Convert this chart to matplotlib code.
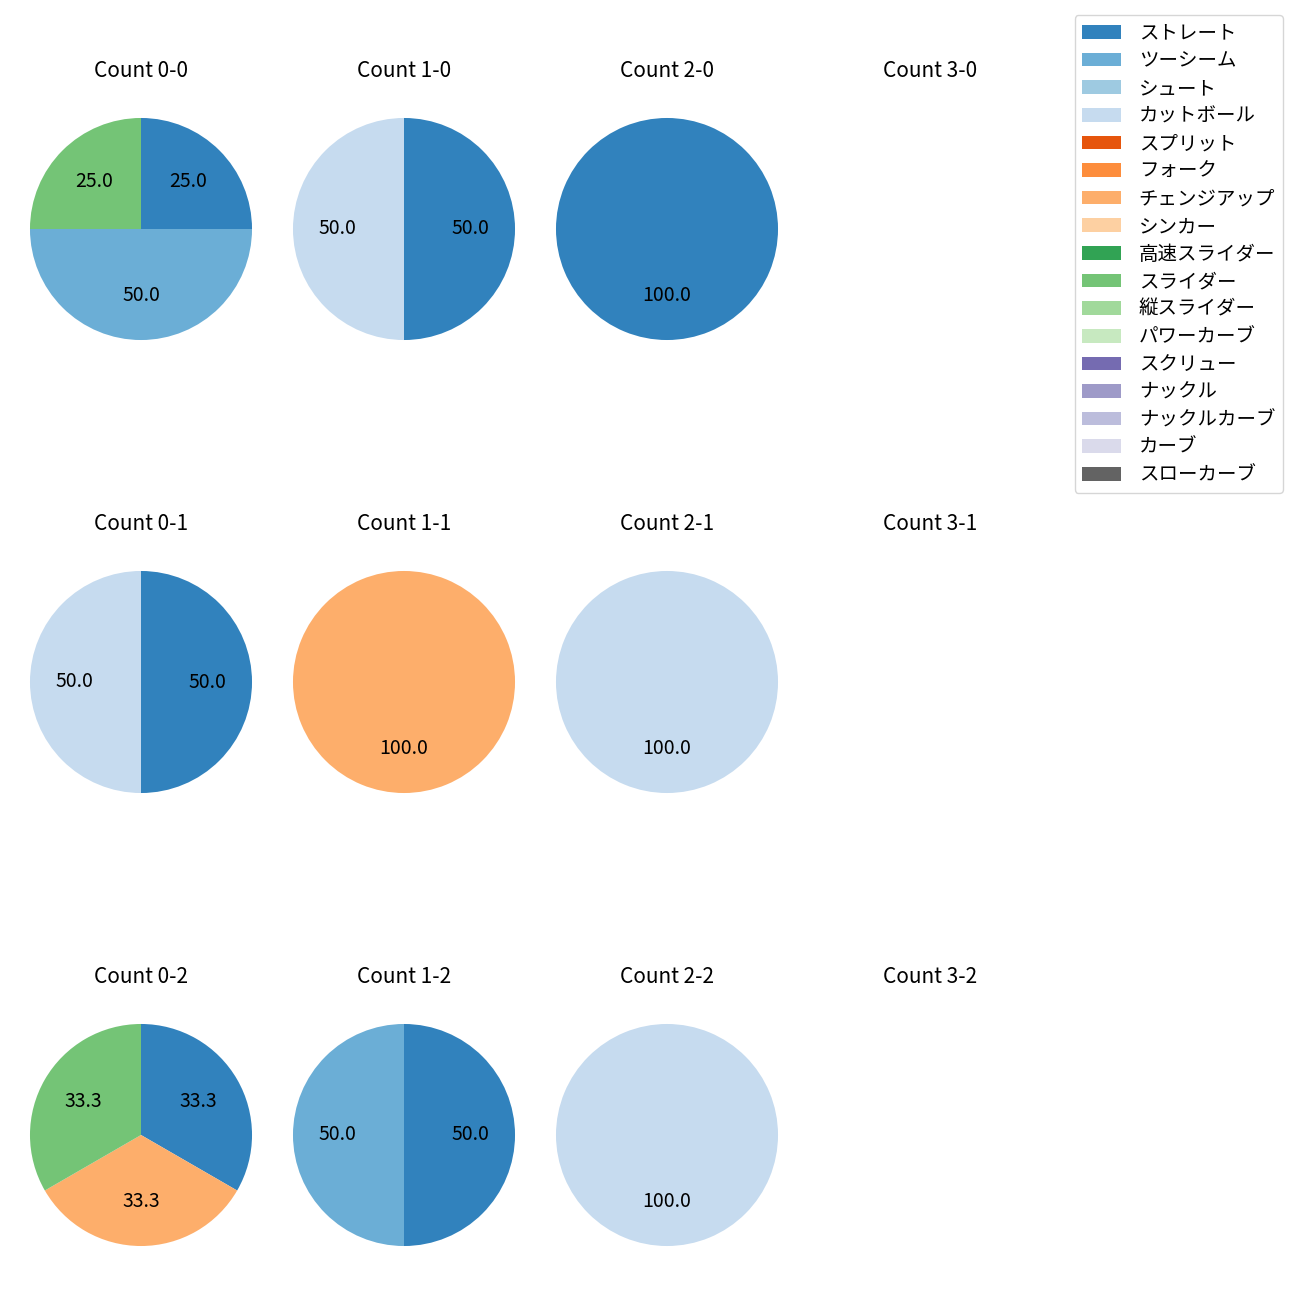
import matplotlib
matplotlib.use("Agg")
import matplotlib.pyplot as plt
from matplotlib.patches import Patch

plt.rcParams['font.family'] = ['Noto Sans CJK JP', 'DejaVu Sans']
plt.rcParams['font.size'] = 13

pitch_types = ['ストレート', 'ツーシーム', 'シュート', 'カットボール', 'スプリット',
               'フォーク', 'チェンジアップ', 'シンカー', '高速スライダー', 'スライダー',
               '縦スライダー', 'パワーカーブ', 'スクリュー', 'ナックル', 'ナックルカーブ',
               'カーブ', 'スローカーブ']
cmap = plt.get_cmap('tab20c')
colors = [cmap(i) for i in range(len(pitch_types))]

balls = [0, 1, 2, 3]
strikes = [0, 1, 2]

# pitch counts per ball-strike count, in pitch_types order
count_0_0 = [1, 2, 0, 0, 0, 0, 0, 0, 0, 1, 0, 0, 0, 0, 0, 0, 0]
count_1_0 = [1, 0, 0, 1, 0, 0, 0, 0, 0, 0, 0, 0, 0, 0, 0, 0, 0]
count_2_0 = [1, 0, 0, 0, 0, 0, 0, 0, 0, 0, 0, 0, 0, 0, 0, 0, 0]
count_3_0 = [0] * 17
count_0_1 = [1, 0, 0, 1, 0, 0, 0, 0, 0, 0, 0, 0, 0, 0, 0, 0, 0]
count_1_1 = [0, 0, 0, 0, 0, 0, 1, 0, 0, 0, 0, 0, 0, 0, 0, 0, 0]
count_2_1 = [0, 0, 0, 1, 0, 0, 0, 0, 0, 0, 0, 0, 0, 0, 0, 0, 0]
count_3_1 = [0] * 17
count_0_2 = [1, 0, 0, 0, 0, 0, 1, 0, 0, 1, 0, 0, 0, 0, 0, 0, 0]
count_1_2 = [1, 1, 0, 0, 0, 0, 0, 0, 0, 0, 0, 0, 0, 0, 0, 0, 0]
count_2_2 = [0, 0, 0, 1, 0, 0, 0, 0, 0, 0, 0, 0, 0, 0, 0, 0, 0]
count_3_2 = [0] * 17

data = {
    (0, 0): count_0_0, (1, 0): count_1_0, (2, 0): count_2_0, (3, 0): count_3_0,
    (0, 1): count_0_1, (1, 1): count_1_1, (2, 1): count_2_1, (3, 1): count_3_1,
    (0, 2): count_0_2, (1, 2): count_1_2, (2, 2): count_2_2, (3, 2): count_3_2,
}

fig = plt.figure(figsize=(13, 13), dpi=100)

size = 0.2135
xc = [141 / 1300, 404 / 1300, 667 / 1300, 930 / 1300]
yc = [1 - 229 / 1300, 1 - 682 / 1300, 1 - 1135 / 1300]

for s in strikes:
    for b in balls:
        ax = fig.add_axes([xc[b] - size / 2, yc[s] - size / 2, size, size])
        vals = data[(b, s)]
        if sum(vals) > 0:
            v = [x for x in vals if x > 0]
            c = [colors[i] for i, x in enumerate(vals) if x > 0]
            ax.pie(v, colors=c, startangle=90, counterclock=False,
                   autopct='%.1f', textprops={'fontsize': 14})
        else:
            ax.set_xlim(-1.25, 1.25)
            ax.set_ylim(-1.25, 1.25)
            ax.axis('off')
        ax.set_title(f'Count {b}-{s}', fontsize=15, pad=9.5)

handles = [Patch(facecolor=colors[i], label=p) for i, p in enumerate(pitch_types)]
fig.legend(handles=handles, loc='upper right', fontsize=14, borderaxespad=0,
           labelspacing=0.34, handletextpad=0.9,
           bbox_to_anchor=(1283 / 1300, 1 - 15 / 1300))

fig.savefig('out.png', dpi=100)
